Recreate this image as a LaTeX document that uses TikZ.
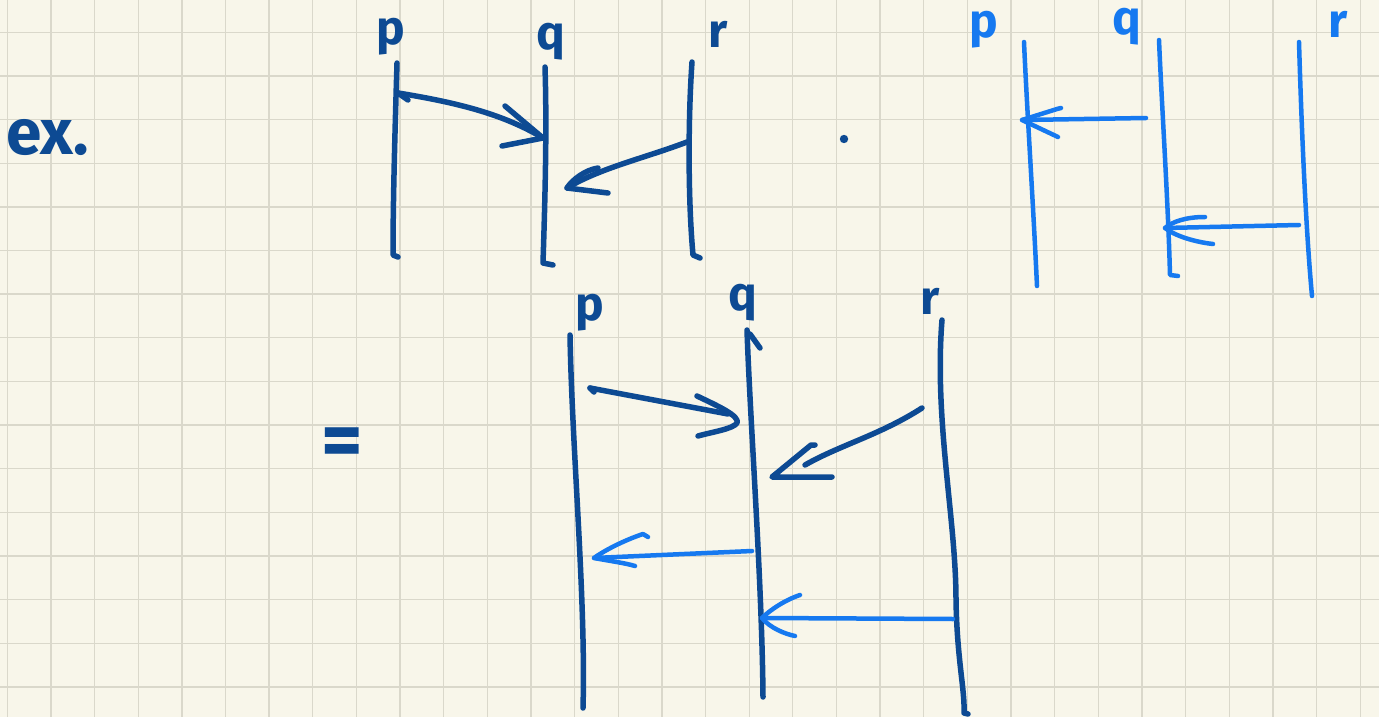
\documentclass[tikz,border=0pt]{standalone}
\usepackage{fontspec}
\setmainfont{Fira Sans}
\definecolor{paper}{HTML}{F8F6EA}
\definecolor{gridc}{HTML}{DAD8CB}
\definecolor{inkdark}{HTML}{0D4A93}
\definecolor{inklight}{HTML}{1679F0}
\tikzset{
  dark/.style={draw=inkdark, line width=5.5pt, line cap=round, line join=round},
  light/.style={draw=inklight, line width=4.5pt, line cap=round, line join=round},
  gridline/.style={draw=gridc, line width=1.3pt},
  lbl/.style={inner sep=0pt, anchor=base, font=\fontsize{48}{56}\selectfont\bfseries},
  lbldark/.style={lbl, text=inkdark},
  lbllight/.style={lbl, text=inklight},
}
\begin{document}
\begin{tikzpicture}[x=1pt,y=-1pt]
\useasboundingbox (0,0) rectangle (1379,717);
\fill[paper] (0,0) rectangle (1379,717);
\foreach \i in {0,...,31} \draw[gridline] ({7.3+43.64*\i},0) -- ({7.3+43.64*\i},717);
\foreach \j in {0,...,15} \draw[gridline] (0,{32.3+43.64*\j}) -- (1379,{32.3+43.64*\j});

% ex.
\node[lbldark, anchor=base west, font=\fontsize{64}{72}\selectfont\bfseries] (ex) at (6,154) {ex.};
% =
\node[lbldark, font=\fontsize{80}{90}\selectfont\bfseries] (eq) at (342,467) {=};

% ---------- top-left diagram ----------
\node[lbldark] (p1) at (391,45) {p};
\node[lbldark] (q1) at (551,50) {q};
\node[lbldark] (r1) at (718,48) {r};
\coordinate (p1t) at (397,63); \coordinate (p1b) at (393,255);
\coordinate (q1t) at (545,67); \coordinate (q1b) at (543,263);
\coordinate (r1t) at (692,62); \coordinate (r1b) at (693,255);
\draw[dark] (p1t) .. controls (395,130) and (393,200) .. (p1b) -- (398,257);
\draw[dark] (q1t) .. controls (547,130) and (545,200) .. (q1b) -- (553,265);
\draw[dark] (r1t) .. controls (688,120) and (688,200) .. (r1b) -- (700,258);
\coordinate (a1s) at (398,93); \coordinate (a1e) at (543,138);
\draw[dark] (a1s) .. controls (460,103) and (505,115) .. (a1e);
\draw[dark] (a1s) -- (408,100);
\draw[dark] (505,106) -- (a1e) -- (502,146);
\coordinate (a2s) at (687,142); \coordinate (a2e) at (567,188);
\draw[dark] (a2s) .. controls (645,158) and (600,168) .. (a2e);
\draw[dark] (598,168) .. controls (585,170) and (572,180) .. (a2e) -- (608,193);
\fill[inkdark] (844,139) circle (4.2);

% ---------- top-right diagram ----------
\node[lbllight] (p2) at (984,38) {p};
\node[lbllight] (q2) at (1127,35) {q};
\node[lbllight] (r2) at (1338,38) {r};
\coordinate (p2t) at (1024,42); \coordinate (p2b) at (1037,286);
\coordinate (q2t) at (1159,40); \coordinate (q2b) at (1170,275);
\coordinate (r2t) at (1299,42); \coordinate (r2b) at (1312,296);
\draw[light] (p2t) .. controls (1027,110) and (1033,200) .. (p2b);
\draw[light] (q2t) .. controls (1162,110) and (1168,200) .. (q2b) -- (1178,276);
\draw[light] (r2t) .. controls (1301,110) and (1305,220) .. (r2b);
\coordinate (a3s) at (1146,118); \coordinate (a3e) at (1022,120);
\draw[light] (a3s) -- (a3e);
\draw[light] (1061,108) -- (1057,109) -- (a3e) -- (1058,137);
\coordinate (a4s) at (1299,225); \coordinate (a4e) at (1165,228);
\draw[light] (a4s) -- (a4e);
\draw[light] (1205,217) .. controls (1185,217) and (1172,222) .. (a4e) .. controls (1175,236) and (1195,242) .. (1213,244);

% ---------- bottom diagram ----------
\node[lbldark] (p3) at (590,320) {p};
\node[lbldark] (q3) at (743,310) {q};
\node[lbldark] (r3) at (930,314) {r};
\coordinate (p3t) at (570,335); \coordinate (p3b) at (583,708);
\coordinate (q3t) at (747,330); \coordinate (q3b) at (763,697);
\coordinate (r3t) at (942,320); \coordinate (r3b) at (964,713);
\draw[dark] (p3t) .. controls (572,450) and (586,600) .. (p3b);
\draw[dark] (q3t) .. controls (750,420) and (762,580) .. (q3b);
\draw[dark] (750,334) -- (760,348);
\draw[dark] (r3t) .. controls (934,420) and (956,520) .. (956,600) .. controls (957,660) and (965,690) .. (r3b) -- (968,714);
\coordinate (a5s) at (590,388); \coordinate (a5e) at (728,414);
\draw[dark] (a5s) -- (a5e);
\draw[dark] (a5s) -- (594,392);
\draw[dark] (697,396) .. controls (718,406) and (740,416) .. (737,423) .. controls (733,429) and (712,432) .. (698,436);
\coordinate (a6s) at (922,408); \coordinate (a6e) at (805,465);
\draw[dark] (a6s) .. controls (880,435) and (840,445) .. (a6e);
\draw[dark] (815,445) -- (811,445) -- (772,477) -- (832,477);
\coordinate (a7s) at (752,551); \coordinate (a7e) at (594,558);
\draw[light] (a7s) -- (a7e);
\draw[light] (648,537) -- (643,534) .. controls (625,540) and (605,550) .. (a7e) .. controls (610,561) and (625,563) .. (635,566);
\coordinate (a8s) at (953,619); \coordinate (a8e) at (762,618);
\draw[light] (a8s) -- (a8e);
\draw[light] (800,595) .. controls (785,600) and (770,610) .. (a8e) .. controls (770,628) and (785,634) .. (795,636);
\end{tikzpicture}
\end{document}
